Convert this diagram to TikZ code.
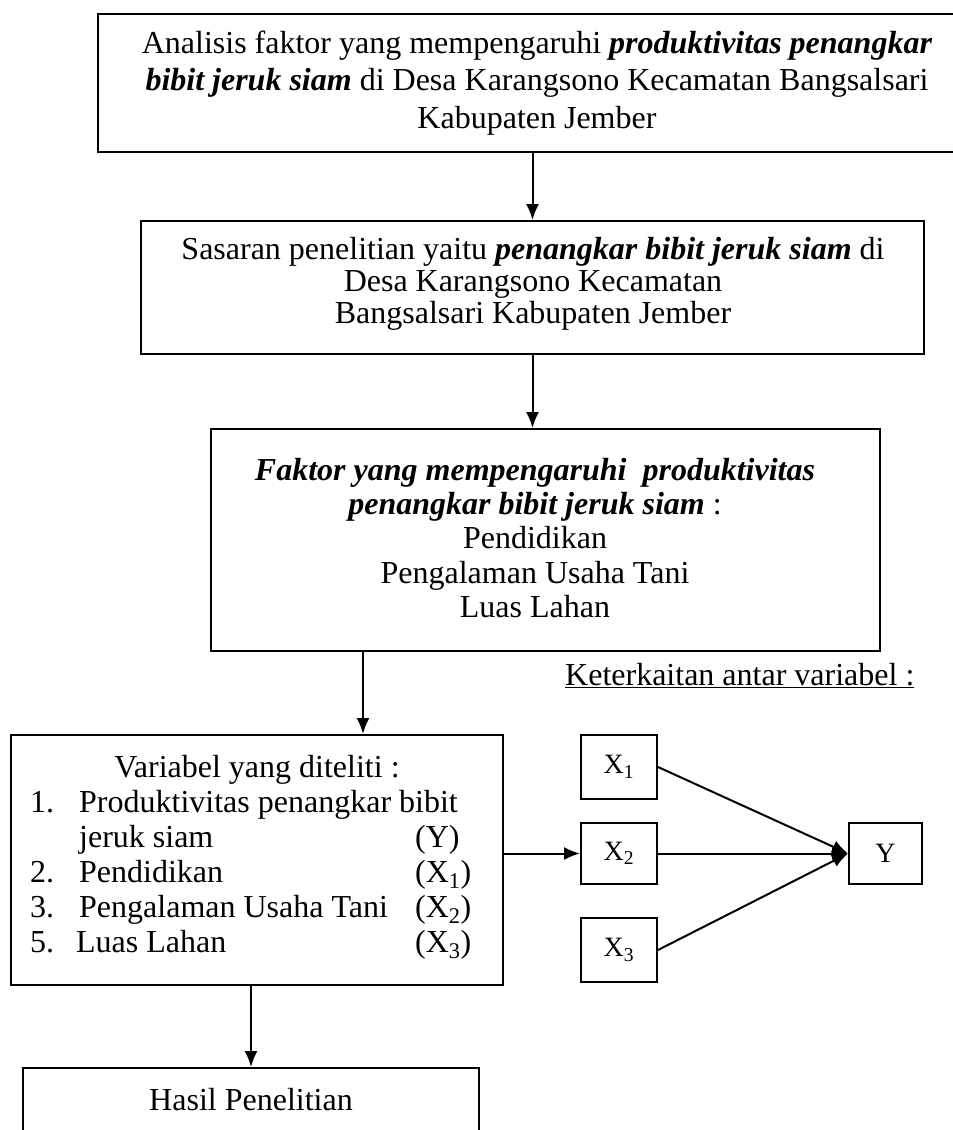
\documentclass[tikz,border=0pt]{standalone}
\usepackage{fontspec}
\setmainfont{Liberation Serif}
\usetikzlibrary{arrows.meta}
\newcommand{\numcell}[1]{\makebox[49pt][l]{#1}}
\newcommand{\itemcell}[1]{\makebox[336pt][l]{#1}}
\begin{document}
\begin{tikzpicture}[x=1pt,y=-1pt,
  box/.style={draw, line width=2pt, rectangle, inner sep=0pt},
  conn/.style={line width=2pt, -{Latex[length=16pt,width=13pt]}},
  txt/.style={inner sep=0pt, font=\fontsize{32}{35}\selectfont},
  small/.style={inner sep=0pt, font=\fontsize{28}{33}\selectfont},
  font=\fontsize{32}{35}\selectfont]
\fill[white] (0,0) rectangle (953,1130);
\useasboundingbox (0,0) rectangle (953,1130);
% boxes
\node[box, minimum width=878pt, minimum height=138pt] (b1) at (537,83) {};
\node[box, minimum width=783pt, minimum height=133pt] (b2) at (532.5,287.5) {};
\node[box, minimum width=669pt, minimum height=222pt] (b3) at (545.5,540) {};
\node[box, minimum width=492pt, minimum height=250pt] (b4) at (257,860) {};
\node[box, minimum width=456pt, minimum height=100pt] (b5) at (251,1118) {};
\node[box, minimum width=76pt, minimum height=64pt] (x1) at (619,767) {};
\node[box, minimum width=76pt, minimum height=61pt] (x2) at (619,853.5) {};
\node[box, minimum width=76pt, minimum height=64pt] (x3) at (619,950) {};
\node[box, minimum width=73pt, minimum height=61pt] (yy) at (885.5,853.5) {};
% texts
\node[txt, align=center, font=\fontsize{32}{37.5}\selectfont] (t1) at (537,83)
  {Analisis faktor yang mempengaruhi \textbf{\textit{produktivitas penangkar}}\\
   \textbf{\textit{bibit jeruk siam}} di Desa Karangsono Kecamatan Bangsalsari\\
   Kabupaten Jember};
\node[txt, align=center, font=\fontsize{32}{32}\selectfont] (t2) at (533,284)
  {Sasaran penelitian yaitu \textbf{\textit{penangkar bibit jeruk siam}} di\\
   Desa Karangsono Kecamatan\\
   Bangsalsari Kabupaten Jember};
\node[txt, align=center, font=\fontsize{32}{34.3}\selectfont] (t3) at (535,538)
  {\textbf{\textit{Faktor yang mempengaruhi\ \ produktivitas}}\\
   \textbf{\textit{penangkar bibit jeruk siam}} :\\
   Pendidikan\\
   Pengalaman Usaha Tani\\
   Luas Lahan};
\node[txt, anchor=base west] (tk) at (565,685) {\underline{Keterkaitan antar variabel :}};
\node[txt, anchor=base] (t4) at (257,777) {Variabel yang diteliti :};
\node[txt, anchor=base west] (t4l) at (30,812)
  {\begin{tabular}[t]{@{}l@{}l@{}l@{}}
   \numcell{1.} & \itemcell{Produktivitas penangkar bibit} & \\
   \numcell{}   & \itemcell{jeruk siam} & (Y)\\
   \numcell{2.} & \itemcell{Pendidikan} & (X\textsubscript{1})\\
   \numcell{3.} & \itemcell{Pengalaman Usaha Tani} & (X\textsubscript{2})\\
   \numcell{5.} & \itemcell{\hspace{-3pt}Luas Lahan} & (X\textsubscript{3})
   \end{tabular}};
\node[txt] (t5) at (251,1100) {Hasil Penelitian};
\node[small] (tx1) at (x1) {X\textsubscript{1}};
\node[small] (tx2) at (x2) {X\textsubscript{2}};
\node[small] (tx3) at (x3) {X\textsubscript{3}};
\node[small] (ty) at (yy) {Y};
% connectors
\draw[conn] (b2.north |- b1.south) -- (b2.north);
\draw[conn] (b2.south) -- (b2.south |- b3.north);
\draw[conn] ([xshift=153pt]b3.south west) -- ([xshift=153pt]b3.south west |- b4.north);
\draw[conn] (b5.north |- b4.south) -- (b5.north);
\draw[conn] (b4.east |- x2.west) -- (x2.west);
\draw[conn] (x1.east) -- (yy.west);
\draw[conn] (x2.east) -- (yy.west);
\draw[conn] (x3.east) -- (yy.west);
\end{tikzpicture}
\end{document}
